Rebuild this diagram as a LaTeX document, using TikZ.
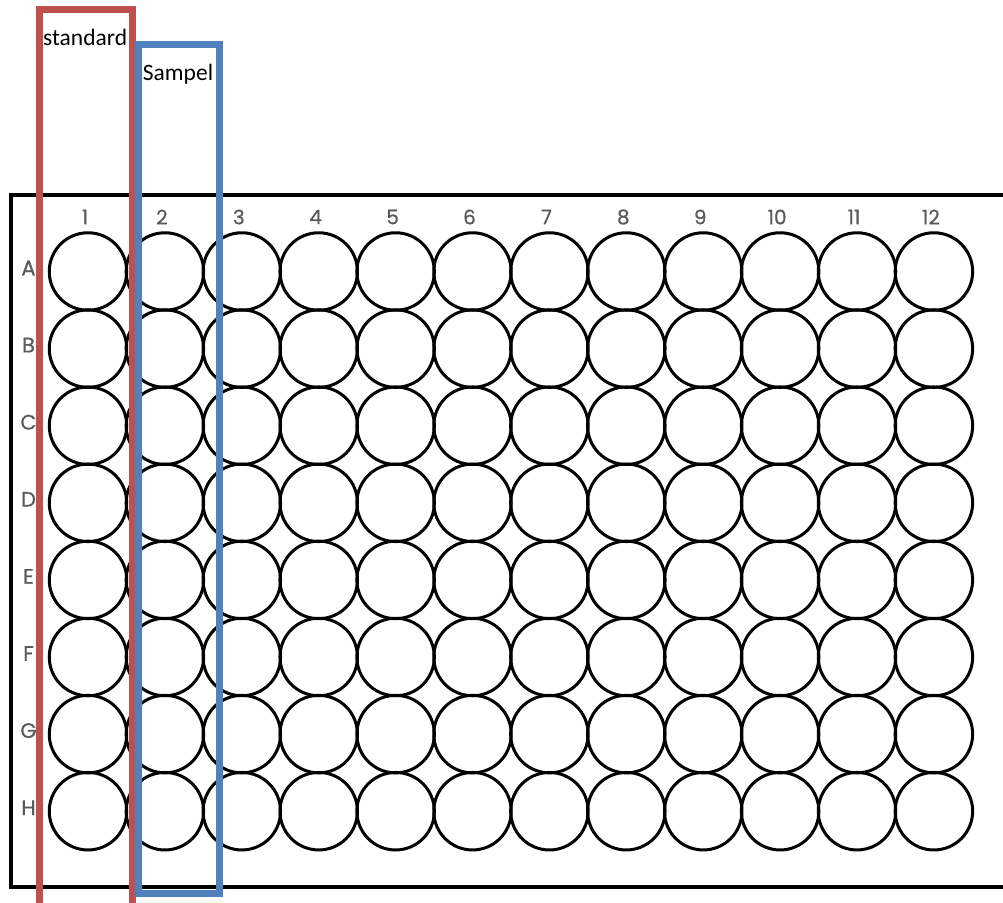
\documentclass[tikz,border=0pt]{standalone}
\usepackage{fontspec}
\setmainfont{Carlito}
\newfontfamily\platefont[FakeBold=0.6]{Poppins}
\definecolor{stdred}{HTML}{C0504D}
\definecolor{smpblue}{HTML}{4F81BD}
\definecolor{lblgray}{HTML}{5A5A5A}
\begin{document}
\begin{tikzpicture}[x=1pt,y=-1pt,
  well/.style={circle,draw=black,line width=3pt,minimum size=77.5pt,inner sep=0pt},
  collabel/.style={font=\platefont\fontsize{20}{20}\selectfont,text=lblgray,inner sep=0pt},
  rowlabel/.style={font=\platefont\fontsize{21}{21}\selectfont,text=lblgray,inner sep=0pt},
  caption/.style={font=\fontsize{23.5}{24}\selectfont,inner sep=0pt,anchor=base west},
  redbox/.style={draw=stdred,line width=7pt},
  bluebox/.style={draw=smpblue,line width=7pt}]
\useasboundingbox (0,0) rectangle (1003,902);
\begin{scope}
\clip (0,0) rectangle (1003,902);
% plate outline
\draw[line width=3.2pt,black] (11,195) rectangle (1020,887);
% wells
\foreach \r [count=\j from 0] in {A,B,C,D,E,F,G,H}{
  \foreach \c in {1,...,12}{
    \node[well] (w-\r-\c) at ({88+76.9*(\c-1)},{271.5+77.1*\j}) {};
  }
  \node[rowlabel] (r\r) at (28.5,{268+77.1*\j}) {\r};
}
\foreach \c in {1,...,12}{
  \node[collabel] (n\c) at ({85+76.9*(\c-1)},217) {\c};
}
% highlight boxes
\draw[redbox] (39.5,910) -- (39.5,9.5) -- (132.5,9.5) -- (132.5,910);
\draw[bluebox] (138.5,44.5) rectangle (219.5,893);
\end{scope}
\node[caption] (std) at (43,45) {standard};
\node[caption] (smp) at (142.7,80) {Sampel};
\end{tikzpicture}
\end{document}
